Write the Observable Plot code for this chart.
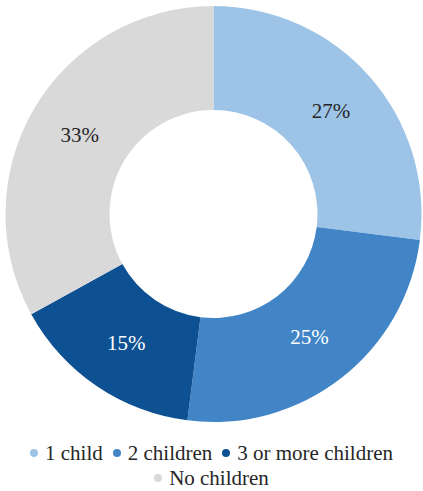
<!DOCTYPE html>
<html>
<head>
<meta charset="utf-8">
<script src="https://cdn.jsdelivr.net/npm/d3@7"></script>
<script src="https://cdn.jsdelivr.net/npm/@observablehq/plot@0.6"></script>
<style>
  html, body { margin: 0; padding: 0; background: #fff; }
  #chart { width: 423px; height: 430px; }
  .legend { font-family: "Liberation Serif", "Times New Roman", serif; font-size: 21px; color: #262626; text-align: center; line-height: 25px; width: 423px; margin-top: 11px; }
  .legend .item { display: inline-block; margin: 0 5px; white-space: nowrap; }
  .legend .sw { display: inline-block; width: 8px; height: 8px; border-radius: 50%; margin-right: 7px; vertical-align: 3px; }
</style>
</head>
<body>
<div id="chart"></div>
<script>
const categories = ["1 child", "2 children", "3 or more children", "No children"];
const values = [27, 25, 15, 33];
const valueLabels = ["27%", "25%", "15%", "33%"];
const sliceColors = ["#9dc3e6", "#4185c7", "#0e5193", "#d9d9d9"];
const labelColors = ["#262626", "#ffffff", "#ffffff", "#262626"];
const innerRatio = 0.5;
const serif = "Liberation Serif";

const data = categories.map((c, i) => ({category: c, value: values[i], label: valueLabels[i], labelColor: labelColors[i]}));
const arcs = d3.pie().sort(null).value(d => d.value)(data);
const rows = arcs.map(a => {
  const mid = (a.startAngle + a.endAngle) / 2;
  const r = (1 + innerRatio) / 2;
  return {...a.data, startAngle: a.startAngle, endAngle: a.endAngle, lx: Math.sin(mid) * r, ly: Math.cos(mid) * r};
});

const color = Plot.scale({color: {type: "ordinal", domain: categories, range: sliceColors}});

function slices(index, scales) {
  const cx = scales.x(0), cy = scales.y(0);
  const R = scales.x(1) - scales.x(0);
  const arc = d3.arc().innerRadius(R * innerRatio).outerRadius(R);
  const g = d3.create("svg:g").attr("transform", `translate(${cx},${cy})`);
  g.selectAll("path").data(rows).join("path")
    .attr("d", d => arc(d))
    .attr("fill", d => color.apply(d.category));
  return g.node();
}

const plot = Plot.plot({
  width: 423,
  height: 430,
  margin: 0,
  style: {fontFamily: serif},
  x: {domain: [-1, 1], range: [5.5, 421.5], axis: null},
  y: {domain: [-1, 1], range: [422, 6], axis: null},
  marks: [
    slices,
    Plot.text(rows.filter(d => d.labelColor !== "#ffffff"), {x: "lx", y: "ly", text: "label", fill: "#262626", fontSize: 21, fontFamily: serif}),
    Plot.text(rows.filter(d => d.labelColor === "#ffffff"), {x: "lx", y: "ly", text: "label", fill: "#ffffff", fontSize: 21, fontFamily: serif})
  ]
});
document.getElementById("chart").appendChild(plot);

const legend = d3.select("body").append("div").attr("class", "legend");
categories.forEach((c, i) => {
  const item = legend.append("span").attr("class", "item");
  item.append("span").attr("class", "sw").style("background", color.apply(c));
  item.append("span").text(c);
});
</script>
</body>
</html>
